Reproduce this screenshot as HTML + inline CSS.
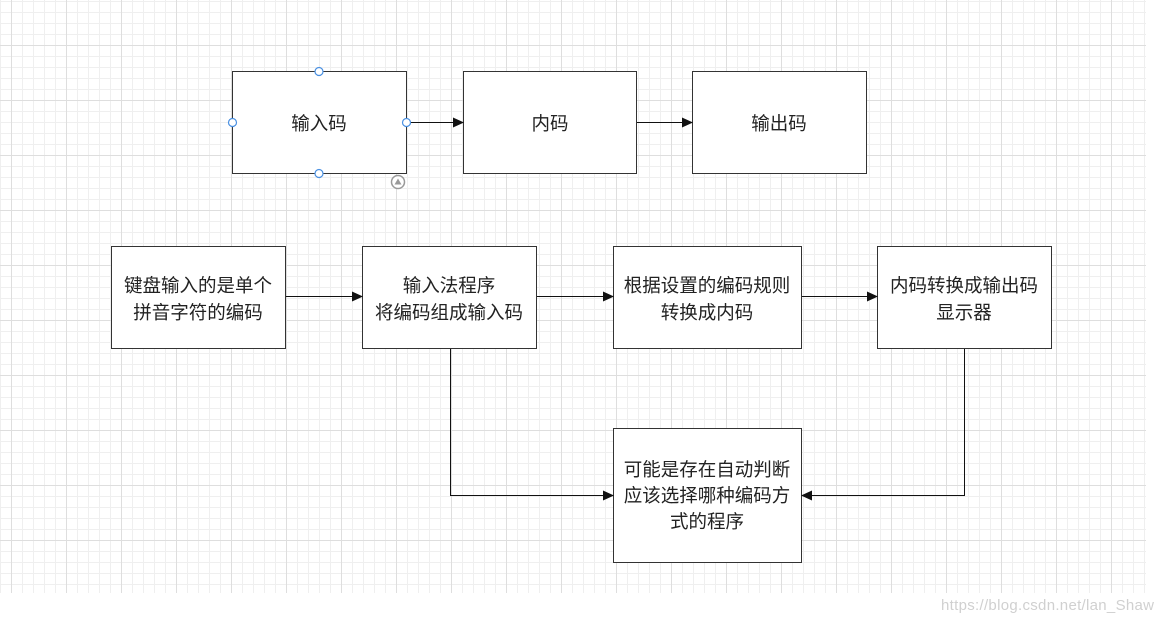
<!DOCTYPE html>
<html><head><meta charset="utf-8"><style>
body{margin:0;width:1164px;height:625px;background:#fff;position:relative;overflow:hidden;font-family:"Liberation Sans","Noto Sans CJK SC",sans-serif}
#grid{position:absolute;left:0;top:0;width:1146px;height:593px;
background-image:
linear-gradient(to right,#dedede 1px,transparent 1px),
linear-gradient(to bottom,#dedede 1px,transparent 1px),
linear-gradient(to right,#efefef 1px,transparent 1px),
linear-gradient(to bottom,#efefef 1px,transparent 1px);
background-size:55px 55px,55px 55px,11px 11px,11px 11px;
background-position:11px 0,0 45px,0 0,0 1px;}
svg{position:absolute;left:0;top:0}
.wm{position:absolute;left:941px;top:597px;font-size:15px;color:#d0d0d0;letter-spacing:0.3px}
</style></head><body>
<div id="grid"></div>
<svg width="1164" height="625" font-family="Liberation Sans, Noto Sans CJK SC, sans-serif" font-size="18.5" fill="#222">
<defs><marker id="a" markerWidth="11" markerHeight="10" refX="10" refY="5" orient="auto" markerUnits="userSpaceOnUse"><path d="M0,0 L11,5 L0,10 z" fill="#111"/></marker></defs>
<g fill="#fff" stroke="#333" stroke-width="1">
<rect x="232.5" y="71.5" width="174" height="102"/>
<rect x="463.5" y="71.5" width="173" height="102"/>
<rect x="692.5" y="71.5" width="174" height="102"/>
<rect x="111.5" y="246.5" width="174" height="102"/>
<rect x="362.5" y="246.5" width="174" height="102"/>
<rect x="613.5" y="246.5" width="188" height="102"/>
<rect x="877.5" y="246.5" width="174" height="102"/>
<rect x="613.5" y="428.5" width="188" height="134"/>
</g>
<g stroke="#111" stroke-width="1" fill="none" marker-end="url(#a)">
<path d="M407 122.5H463"/>
<path d="M637 122.5H692"/>
<path d="M286 296.5H362"/>
<path d="M537 296.5H613"/>
<path d="M802 296.5H877"/>
<path d="M450.5 349V495.5H613"/>
<path d="M964.5 349V495.5H802"/>
</g>
<g fill="#fff" stroke="#4a90e2" stroke-width="1.2">
<circle cx="319" cy="71.5" r="4"/><circle cx="319" cy="173.5" r="4"/>
<circle cx="232.5" cy="122.5" r="4"/><circle cx="406.5" cy="122.5" r="4"/>
</g>
<circle cx="398" cy="182" r="6.5" fill="#fff" stroke="#999" stroke-width="1.5"/>
<path d="M394.5 184.5L398 178.5L401.5 184.5z" fill="#999"/>
<g text-anchor="middle">
<text x="319" y="130">输入码</text>
<text x="550" y="130">内码</text>
<text x="779" y="130">输出码</text>
<text x="198" y="292">键盘输入的是单个</text>
<text x="198" y="319">拼音字符的编码</text>
<text x="449" y="292">输入法程序</text>
<text x="449" y="319">将编码组成输入码</text>
<text x="707" y="292">根据设置的编码规则</text>
<text x="707" y="319">转换成内码</text>
<text x="964" y="292">内码转换成输出码</text>
<text x="964" y="319">显示器</text>
<text x="707" y="476">可能是存在自动判断</text>
<text x="707" y="502">应该选择哪种编码方</text>
<text x="707" y="528">式的程序</text>
</g>
</svg>
<div class="wm">https://blog.csdn.net/lan_Shaw</div>
</body></html>
